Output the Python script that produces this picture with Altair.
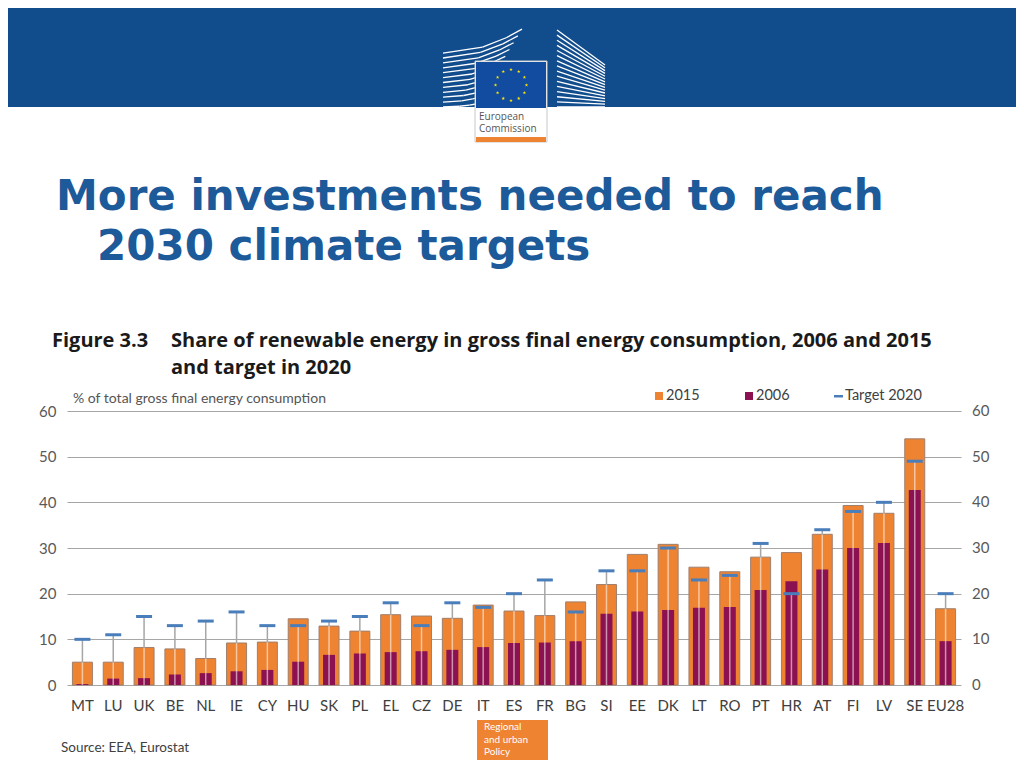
import altair as alt
import pandas as pd
import numpy as np

# ---------------- data ----------------
countries = ["MT", "LU", "UK", "BE", "NL", "IE", "CY", "HU", "SK", "PL", "EL", "CZ", "DE", "IT",
             "ES", "FR", "BG", "SI", "EE", "DK", "LT", "RO", "PT", "HR", "AT", "FI", "LV", "SE", "EU28"]
share_2015 = [5.0, 5.0, 8.2, 7.9, 5.8, 9.2, 9.4, 14.5, 12.9, 11.8, 15.4, 15.1, 14.6, 17.5,
              16.2, 15.2, 18.2, 22.0, 28.6, 30.8, 25.8, 24.8, 28.0, 29.0, 33.0, 39.3, 37.6, 53.9, 16.7]
share_2006 = [0.2, 1.4, 1.5, 2.3, 2.6, 3.0, 3.3, 5.1, 6.6, 6.9, 7.2, 7.4, 7.7, 8.3,
              9.2, 9.3, 9.6, 15.6, 16.1, 16.4, 16.9, 17.1, 20.8, 22.7, 25.3, 30.0, 31.1, 42.7, 9.6]
target_2020 = [10, 11, 15, 13, 14, 16, 13, 13, 14, 15, 18, 13, 18, 17,
               20, 23, 16, 25, 25, 30, 23, 24, 31, 20, 34, 38, 40, 49, 20]
y_ticks = [0, 10, 20, 30, 40, 50, 60]
legend_labels = ["2015", "2006", "Target 2020"]

slide_title = ["More investments needed to reach", "2030 climate targets"]
fig_number = "Figure 3.3"
fig_caption = ["Share of renewable energy in gross final energy consumption, 2006 and 2015",
               "and target in 2020"]
y_title = "% of total gross final energy consumption"
source_text = "Source: EEA, Eurostat"
dg_label = ["Regional", "and urban", "Policy"]
logo_text = ["European", "Commission"]

# ---------------- style ----------------
ORANGE = "#EE8332"
PURPLE = "#8C1151"
BLUE_T = "#4A7EBB"
HEADER = "#114C8D"
TITLE_C = "#1C5A9A"
FONT = "Lato"

OX, OY = 67, 411      # page position of the plot origin
W, H = 894, 274
PAD_L, PAD_T = OX - 8, OY - 8
TOTAL_W, TOTAL_H = 1008, 752


def px(x):
    return float(x - OX)


def py(y):
    return float(y - OY)


df = pd.DataFrame({"country": countries, "s2015": share_2015,
                   "s2006": share_2006, "target": target_2020})

yscale = alt.Scale(domain=[0, 60], nice=False)
yaxis = alt.Axis(title=None, values=y_ticks, ticks=False, domain=False, grid=True,
                 gridColor="#A6A6A6", gridWidth=1, labelFont=FONT, labelFontSize=15,
                 labelColor="#595959", labelPadding=11)
xenc = alt.X("country:N", sort=countries,
             scale=alt.Scale(paddingInner=0, paddingOuter=0),
             axis=alt.Axis(title=None, labelAngle=0, ticks=False, domain=False,
                           labelFont=FONT, labelFontSize=15, labelColor="#404040",
                           labelPadding=13))
xplain = alt.X("country:N", sort=countries)

bars15 = alt.Chart(df).mark_bar(size=20, color=ORANGE, stroke="#A07F6C", strokeWidth=1).encode(
    x=xenc, y=alt.Y("s2015:Q", scale=yscale, axis=yaxis))
bars06 = alt.Chart(df).mark_bar(size=12, color=PURPLE).encode(
    x=xplain, y=alt.Y("s2006:Q", scale=yscale, axis=yaxis))

inner_line = alt.Chart(df).transform_calculate(
    zero="0", lo="min(datum.s2015, datum.target)"
).mark_rule(color="white", opacity=0.55, strokeWidth=1.5).encode(
    x=xplain, y=alt.Y("zero:Q", scale=yscale, axis=yaxis), y2="lo:Q")

outer_line = alt.Chart(df).transform_calculate(
    lo="min(datum.s2015, datum.target)"
).mark_rule(color="#A6A6A6", strokeWidth=1.5).encode(
    x=xplain, y=alt.Y("lo:Q", scale=yscale, axis=yaxis), y2="target:Q")

ticks = alt.Chart(df).mark_tick(color=BLUE_T, size=16, thickness=3, opacity=1).encode(
    x=xplain, y=alt.Y("target:Q", scale=yscale, axis=yaxis))

right_labels = alt.Chart(pd.DataFrame({"v": y_ticks})).mark_text(
    align="left", baseline="middle", font=FONT, fontSize=15, color="#595959"
).encode(x=alt.value(W + 11), y=alt.Y("v:Q", scale=yscale, axis=yaxis), text="v:Q")

ONE = pd.DataFrame({"k": [0]})

# five-pointed star as a custom symbol path
_pts = []
for k in range(10):
    a = -np.pi / 2 + k * np.pi / 5
    r = 1.0 if k % 2 == 0 else 0.4
    _pts.append(f"{r * np.cos(a):.3f},{r * np.sin(a):.3f}")
STAR_PATH = "M" + " L".join(_pts) + " Z"


# ---------------- pixel-placed decoration helpers ----------------
def rect(x1, y1, x2, y2, fill, stroke=None):
    kw = dict(color=fill)
    if stroke:
        kw.update(stroke=stroke, strokeWidth=1)
    return alt.Chart(ONE).mark_rect(**kw).encode(
        x=alt.value(px(x1)), x2=alt.value(px(x2)), y=alt.value(py(y1)), y2=alt.value(py(y2)))


def seg(x1, y1, x2, y2, color="white", w=1.3):
    return alt.Chart(ONE).mark_rule(color=color, strokeWidth=w).encode(
        x=alt.value(px(x1)), x2=alt.value(px(x2)), y=alt.value(py(y1)), y2=alt.value(py(y2)))


def text(x, y, s, size, color, weight="normal", font=FONT, align="left", baseline="middle"):
    return alt.Chart(ONE).mark_text(align=align, baseline=baseline, fontSize=size, color=color,
                                    fontWeight=weight, font=font, text=s).encode(
        x=alt.value(px(x)), y=alt.value(py(y)))


def star(x, y):
    return alt.Chart(ONE).mark_point(shape=STAR_PATH, filled=True, color="#FFE600", size=14,
                                     opacity=1).encode(x=alt.value(px(x)), y=alt.value(py(y)))


layers = []
# header band
layers.append(rect(8, 8, 1016, 107, HEADER))

# building lines (logo decoration)
for i in range(12):
    y0 = 107 - i * 4.9
    xe = 476 + (522 - 476) * i / 11
    ye = y0 - (3 + 21 * i / 11)
    ts = [0, 0.5, 0.8, 1.0]
    pts = [(443 + (xe - 443) * t, y0 - (y0 - ye) * t ** 2) for t in ts]
    for a, b in zip(pts[:-1], pts[1:]):
        layers.append(seg(a[0], a[1], b[0], b[1]))
for i in range(16):
    yl = 30 + i * 77 / 15
    yr = 65 + i * 42 / 15
    layers.append(seg(557, yl, 605, yr))

# logo box
layers.append(rect(475, 61, 547, 142, "white", stroke="#C8C8C8"))
layers.append(rect(476, 62, 546, 108, "#124CA0"))
layers.append(rect(476, 137, 546, 142, ORANGE))
for a in np.arange(12) * np.pi / 6:
    layers.append(star(511 + 15.5 * np.sin(a), 85 - 15.5 * np.cos(a)))
layers.append(text(479, 117, logo_text[0], 10, "#555555", font="Open Sans"))
layers.append(text(479, 129, logo_text[1], 10, "#555555", font="Open Sans"))

# slide title
layers.append(text(56, 210, slide_title[0], 42, TITLE_C, weight="bold", font="DejaVu Sans",
                   baseline="alphabetic"))
layers.append(text(97, 260, slide_title[1], 42, TITLE_C, weight="bold", font="DejaVu Sans",
                   baseline="alphabetic"))

# figure caption
layers.append(text(52, 347, fig_number, 20, "#1A1A1A", weight="bold", font="Open Sans",
                   baseline="alphabetic"))
layers.append(text(171, 347, fig_caption[0], 20, "#1A1A1A", weight="bold", font="Open Sans",
                   baseline="alphabetic"))
layers.append(text(171, 374, fig_caption[1], 20, "#1A1A1A", weight="bold", font="Open Sans",
                   baseline="alphabetic"))

# y axis title
layers.append(text(73, 399, y_title, 14, "#555555"))

# legend
layers.append(rect(655, 392, 663, 400, ORANGE))
layers.append(text(666, 396, legend_labels[0], 14.5, "#404040"))
layers.append(rect(745, 392, 753, 400, PURPLE))
layers.append(text(756, 396, legend_labels[1], 14.5, "#404040"))
layers.append(rect(834, 395, 843, 397.5, BLUE_T))
layers.append(text(845, 396, legend_labels[2], 14.5, "#404040"))

# footer
layers.append(text(61, 748, source_text, 13.5, "#404040"))
layers.append(rect(477, 720, 548, 768, ORANGE))
for k, yy in enumerate([727, 739.5, 752]):
    layers.append(text(484, yy, dg_label[k], 10, "white", font="Lato"))

chart = alt.layer(
    bars15, bars06, inner_line, outer_line, ticks, right_labels, *layers
).properties(
    width=W, height=H,
    autosize=alt.AutoSizeParams(type="none"),
    padding={"left": PAD_L, "top": PAD_T,
             "right": TOTAL_W - PAD_L - W, "bottom": TOTAL_H - PAD_T - H},
).configure_view(stroke=None)

chart.save("out.html", embed_options={"renderer": "svg", "actions": False})
